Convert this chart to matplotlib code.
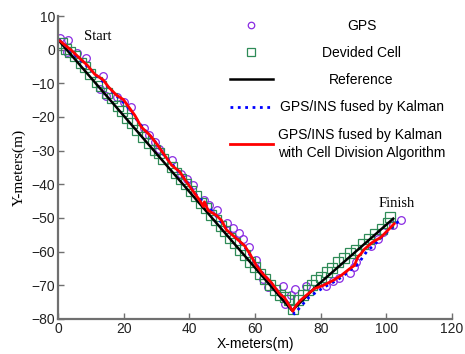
import matplotlib
matplotlib.use("Agg")
import matplotlib.pyplot as plt

# GPS fixes (x, y) in metres
gps_x = [0.7, 3.0, 2.6, 5.9, 8.5, 13.8, 12.8, 14.6, 18.0, 20.1, 22.2, 26.1, 27.7, 29.5, 30.8,
         34.6, 37.6, 39.4, 41.1, 44.4, 46.0, 48.4, 51.6, 53.3, 55.1, 56.3, 58.2, 60.4, 62.4,
         63.9, 68.5, 71.0, 69.0, 72.3, 75.4, 81.7, 83.7, 85.7, 88.8, 90.3, 90.8, 95.3, 97.4,
         98.9, 101.9, 104.4]
gps_y = [3.5, 2.9, -0.6, -1.1, -2.4, -7.8, -11.8, -13.7, -14.0, -15.5, -17.0, -23.4, -25.2,
         -27.4, -29.4, -32.9, -36.8, -38.5, -40.3, -44.6, -46.0, -47.5, -51.4, -52.9, -54.5,
         -56.2, -58.7, -62.6, -68.1, -70.4, -70.1, -73.0, -75.5, -71.0, -70.1, -70.1, -68.6,
         -67.8, -66.4, -64.6, -63.1, -58.2, -56.2, -54.2, -52.2, -50.7]

# divided cells
cell_x = [1.2, 2.5, 3.8, 5.2, 6.9, 8.3, 9.9, 11.8, 13.2, 14.8, 16.3, 18.3, 19.6, 20.9, 22.5,
          24.2, 25.9, 27.7, 29.5, 30.8, 32.0, 34.6, 36.0, 37.5, 39.0, 40.5, 42.0, 43.5, 45.0,
          46.5, 48.0, 49.5, 51.0, 52.5, 54.0, 55.5, 57.0, 58.5, 60.0, 61.5, 63.0, 64.5, 66.0,
          67.5, 69.0, 70.5, 71.5,
          73.0, 74.5, 76.0, 77.5, 78.5, 80.2, 81.8, 83.5, 85.2, 87.0, 88.8, 90.8, 92.8, 94.8,
          96.5, 98.8, 100.5, 101.0]
cell_y = [1.9, 0.2, -0.8, -1.9, -4.1, -5.2, -7.1, -9.6, -10.8, -12.9, -14.5, -16.8, -18.3,
          -20.4, -21.8, -24.0, -25.9, -27.6, -29.7, -30.8, -32.4, -34.9, -36.5, -38.5, -40.0,
          -42.0, -43.5, -45.5, -47.0, -49.0, -50.5, -52.5, -54.0, -56.0, -57.5, -59.5, -61.0,
          -63.0, -64.5, -66.5, -68.0, -70.0, -71.5, -73.0, -73.5, -74.5, -77.0,
          -74.5, -73.0, -71.5, -70.0, -68.5, -67.5, -66.0, -64.8, -63.2, -62.0, -60.5, -59.5,
          -57.6, -56.2, -54.7, -53.2, -51.5, -49.7]

# reference path
ref_x = [0.6, 71.3, 79.0, 102.1]
ref_y = [2.3, -77.5, -70.0, -50.2]

# GPS/INS Kalman
kal_x = [0.3, 3.5, 6.5, 9.5, 12.0, 14.5, 17.0, 19.5, 22.0, 24.5, 27.0, 29.5, 32.0, 34.5, 37.0,
         39.5, 42.0, 44.5, 47.0, 49.5, 52.0, 54.5, 57.0, 59.5, 62.0, 64.5, 67.0, 69.5, 72.0,
         74.0, 76.5, 79.0, 81.5, 84.0, 86.5, 89.0, 91.5, 94.0, 96.5, 99.0, 101.5, 104.5]
kal_y = [3.0, 0.0, -2.8, -5.5, -8.0, -10.2, -13.0, -15.2, -18.0, -21.5, -24.5, -27.2, -31.0,
         -33.8, -36.5, -39.5, -43.0, -45.5, -48.0, -51.0, -54.0, -56.2, -58.8, -62.5, -66.0,
         -68.8, -71.8, -74.5, -78.5, -76.2, -73.5, -71.8, -70.3, -69.0, -67.5, -65.5, -63.5,
         -60.0, -57.8, -55.3, -53.0, -50.2]

# GPS/INS Kalman with cell division
cd_x = [0.6, 4.2, 7.2, 8.9, 11.2, 13.8, 15.3, 17.8, 19.9, 21.9, 23.4, 25.4, 28.0, 30.0, 32.5,
        34.6, 37.1, 38.1, 40.6, 43.2, 44.3, 44.6, 45.7, 48.2, 49.8, 51.3, 53.3, 55.3, 56.8,
        58.4, 60.4, 62.4, 64.9, 67.5, 69.0, 71.5, 72.5, 73.8, 75.6, 78.1, 80.6, 83.7, 86.2,
        88.8, 90.3, 91.3, 92.3, 93.3, 95.8, 98.4, 100.4, 102.4]
cd_y = [2.6, -0.3, -3.1, -4.6, -7.3, -9.0, -11.0, -13.5, -14.8, -17.5, -19.5, -23.0, -25.4,
        -27.9, -31.4, -34.3, -36.3, -37.8, -41.3, -44.8, -46.6, -45.2, -47.7, -49.2, -50.7,
        -53.5, -55.2, -56.9, -58.2, -60.6, -64.1, -66.6, -69.1, -72.5, -73.7, -77.7, -76.0,
        -74.5, -73.0, -71.0, -70.1, -68.6, -67.1, -65.1, -64.1, -61.6, -60.6, -59.3, -57.2,
        -55.7, -53.7, -51.7]

plt.rcParams['font.family'] = ['Liberation Sans', 'DejaVu Sans']
plt.rcParams['font.size'] = 10

fig = plt.figure(figsize=(4.65, 3.54), dpi=100)
ax = fig.add_axes([0.1247, 0.0989, 0.8473, 0.8559])

ax.plot(gps_x, gps_y, 'o', mfc='none', mec='#8a2be2', ms=5.5, mew=0.9, label='GPS')
ax.plot(cell_x, cell_y, 's', mfc='none', mec='#2e8b57', ms=7, mew=0.9, label='Devided Cell')
ax.plot(ref_x, ref_y, '-', color='black', lw=1.8, label='Reference')
ax.plot(kal_x, kal_y, ':', color='blue', lw=2, label='GPS/INS fused by Kalman')
ax.plot(cd_x, cd_y, '-', color='red', lw=2,
        label='GPS/INS fused by Kalman\nwith Cell Division Algorithm')

ax.text(12, 3.8, 'Start', family='Liberation Serif', fontsize=10.5, ha='center', va='center')
ax.text(103.3, -45.7, 'Finish', family='Liberation Serif', fontsize=10.5, ha='center', va='center')

ax.set_xlim(0, 120)
ax.set_ylim(-80, 10)
ax.set_xticks(range(0, 121, 20))
ax.set_yticks(range(-80, 11, 10))
ax.set_xlabel('X-meters(m)', labelpad=1)
ax.set_ylabel('Y-meters(m)', family='Liberation Serif', fontsize=11, labelpad=4)

ax.spines['right'].set_visible(False)
ax.spines['top'].set_visible(False)
for s in ['left', 'bottom']:
    ax.spines[s].set_color('#707070')
    ax.spines[s].set_linewidth(1.6)
ax.tick_params(direction='in', length=4, width=1, color='#707070', labelcolor='#222222', pad=2)

leg = ax.legend(loc='upper right', bbox_to_anchor=(0.99, 1.0), frameon=False, fontsize=10,
                handlelength=3.1, handletextpad=0.35, labelspacing=0.95, borderaxespad=0,
                borderpad=0.2, markerscale=0.85)
for t in leg.get_texts():
    t.set_linespacing(1.4)

# centre the legend labels in their column
fig.canvas.draw()
texts = leg.get_texts()
widths = [t.get_window_extent().width for t in texts]
wmax = max(widths)
for t, w in zip(texts, widths):
    if '\n' not in t.get_text():
        t.set_x((wmax - w) / 2)

fig.savefig('out.png', dpi=100)
